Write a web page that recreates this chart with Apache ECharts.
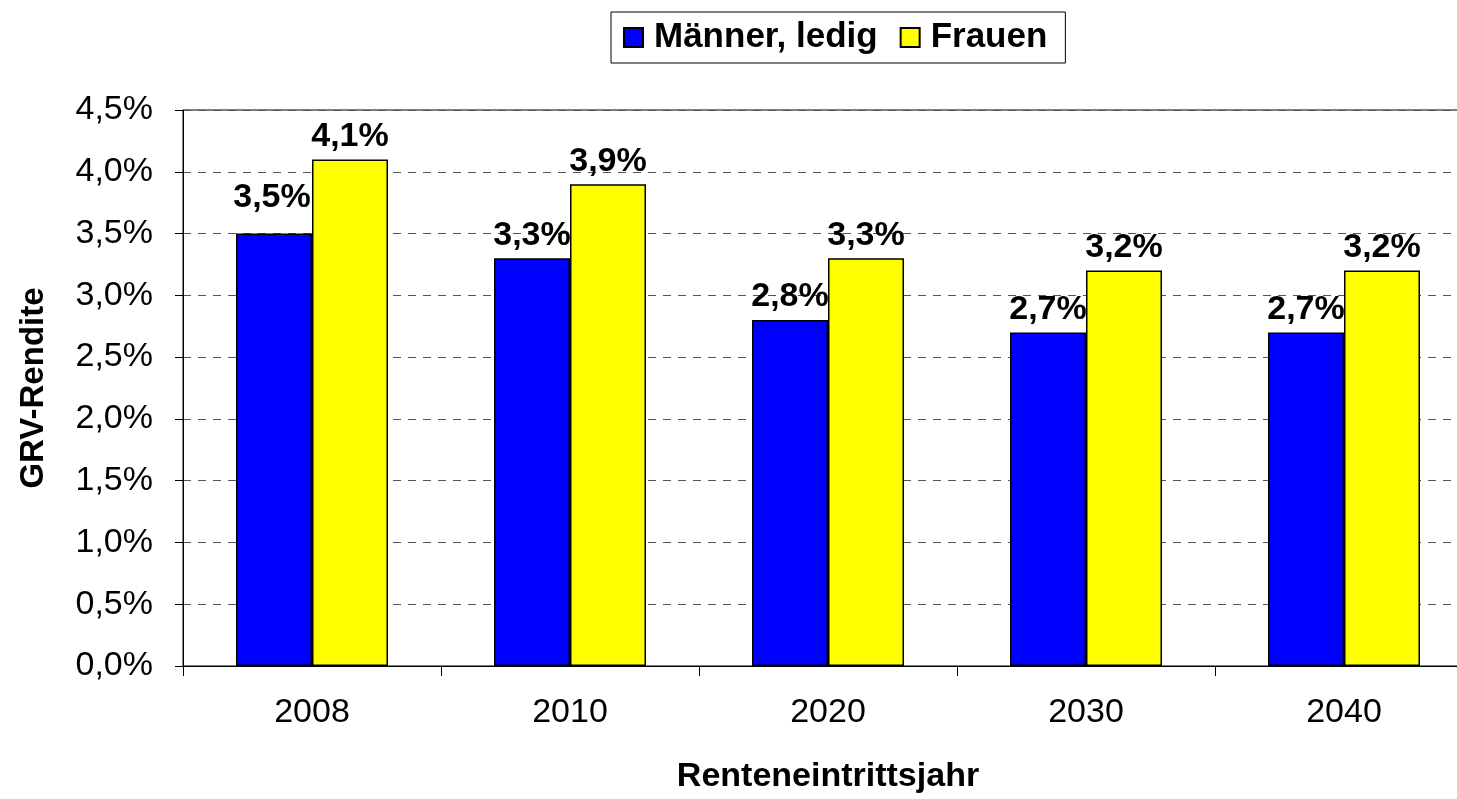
<!DOCTYPE html>
<html>
<head>
<meta charset="utf-8">
<script src="https://cdn.jsdelivr.net/npm/echarts@6/dist/echarts.min.js"></script>
<style>
  html, body { margin: 0; padding: 0; background: #fff; overflow: hidden; }
  /* plot runs past the right edge in the original, so the canvas is a bit wider than the window */
  #chart { width: 1473px; height: 799px; }
</style>
</head>
<body>
<div id="chart"></div>
<script>
const years = ['2008', '2010', '2020', '2030', '2040']
const maenner = [3.5, 3.3, 2.8, 2.7, 2.7]
const frauen = [4.1, 3.9, 3.3, 3.2, 3.2]

const font = 'Liberation Sans, Arial, sans-serif'
const pct = v => v.toFixed(1).replace('.', ',') + '%'

// first blue label sits a bit higher in the original (moved by hand there)
const maennerData = maenner.map((v, i) => i === 0 ? { value: v, label: { offset: [-2, -13] } } : v)

let myChart = echarts.init(document.getElementById('chart'))
myChart.setOption({
  animation: false,
  textStyle: { fontFamily: font },
  legend: {
    top: 12,
    left: 611,
    padding: [8, 18, 8, 12],
    borderColor: '#000',
    borderWidth: 1,
    itemWidth: 19,
    itemHeight: 19,
    itemGap: 22,
    icon: 'rect',
    textStyle: { fontSize: 35, fontWeight: 'bold', color: '#000', fontFamily: font, padding: [0, 0, 0, 6] },
    data: ['Männer, ledig', 'Frauen']
  },
  grid: {
    left: 183,
    top: 110,
    right: 0,
    bottom: 133,
    show: true,
    borderColor: '#000',
    borderWidth: 1
  },
  xAxis: {
    type: 'category',
    data: years,
    name: 'Renteneintrittsjahr',
    nameLocation: 'middle',
    nameGap: 94,
    nameTextStyle: { fontSize: 34, fontWeight: 'bold', color: '#000' },
    axisLine: { lineStyle: { color: '#000', width: 1 } },
    axisTick: { show: true, length: 10, lineStyle: { color: '#000' } },
    axisLabel: { fontSize: 34, color: '#000', margin: 30 }
  },
  yAxis: {
    type: 'value',
    min: 0,
    max: 4.5,
    interval: 0.5,
    name: 'GRV-Rendite',
    nameLocation: 'middle',
    nameGap: 133,
    nameTextStyle: { fontSize: 33, fontWeight: 'bold', color: '#000' },
    axisLine: { show: true, lineStyle: { color: '#000', width: 1 } },
    axisTick: { show: true, length: 8, lineStyle: { color: '#000' } },
    axisLabel: { fontSize: 34, color: '#000', margin: 30, formatter: pct },
    splitLine: { show: true, lineStyle: { color: '#555', type: [8, 7], width: 1 } }
  },
  series: [
    {
      name: 'Männer, ledig',
      type: 'bar',
      data: maennerData,
      barWidth: 76,
      barGap: '0%',
      itemStyle: { color: '#0000ff', borderColor: '#000', borderWidth: 1.5 },
      label: { show: true, position: 'top', distance: 6, fontSize: 34, fontWeight: 'bold', color: '#000', formatter: p => pct(p.value) }
    },
    {
      name: 'Frauen',
      type: 'bar',
      data: frauen,
      barWidth: 76,
      itemStyle: { color: '#ffff00', borderColor: '#000', borderWidth: 1.5 },
      label: { show: true, position: 'top', distance: 6, fontSize: 34, fontWeight: 'bold', color: '#000', formatter: p => pct(p.value) }
    }
  ]
})
</script>
</body>
</html>
